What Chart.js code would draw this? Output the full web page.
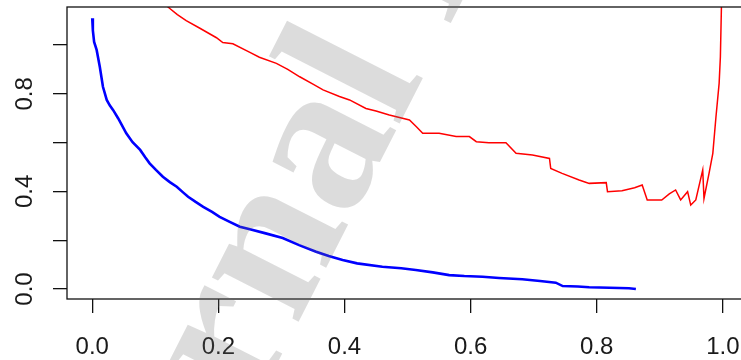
<!DOCTYPE html>
<html>
<head>
<meta charset="utf-8">
<script src="https://cdn.jsdelivr.net/npm/chart.js@4"></script>
<style>
  html, body { margin: 0; padding: 0; background: #fff; overflow: hidden; }
  #wrap { width: 760px; height: 360px; }
</style>
</head>
<body>
<div id="wrap"><canvas id="chart" width="760" height="360"></canvas></div>
<script>
// curve values
const blueX = [0, 0.001, 0.003, 0.007, 0.012, 0.017, 0.023, 0.028, 0.033, 0.041, 0.047, 0.054, 0.064, 0.076, 0.084, 0.091, 0.101, 0.112, 0.123, 0.134, 0.144, 0.152, 0.164, 0.176, 0.19, 0.202, 0.218, 0.234, 0.25, 0.275, 0.302, 0.328, 0.355, 0.375, 0.397, 0.42, 0.46, 0.49, 0.513, 0.54, 0.566, 0.59, 0.619, 0.645, 0.682, 0.71, 0.735, 0.746, 0.77, 0.788, 0.82, 0.851, 0.862];
const blueY = [1.11, 1.06, 1.013, 0.98, 0.911, 0.829, 0.775, 0.752, 0.734, 0.70, 0.672, 0.638, 0.602, 0.57, 0.54, 0.515, 0.488, 0.46, 0.438, 0.419, 0.396, 0.378, 0.357, 0.337, 0.316, 0.296, 0.275, 0.255, 0.245, 0.228, 0.209, 0.18, 0.153, 0.135, 0.119, 0.105, 0.091, 0.085, 0.078, 0.068, 0.057, 0.053, 0.05, 0.045, 0.04, 0.033, 0.026, 0.012, 0.01, 0.007, 0.005, 0.003, 0.0];

const redX = [0.10, 0.123, 0.135, 0.149, 0.17, 0.197, 0.207, 0.223, 0.25, 0.265, 0.292, 0.31, 0.329, 0.35, 0.366, 0.392, 0.408, 0.434, 0.45, 0.471, 0.503, 0.514, 0.524, 0.55, 0.577, 0.598, 0.609, 0.629, 0.656, 0.672, 0.698, 0.725, 0.727, 0.745, 0.772, 0.788, 0.815, 0.817, 0.84, 0.86, 0.872, 0.88, 0.903, 0.915, 0.925, 0.933, 0.944, 0.949, 0.957, 0.968, 0.97, 0.978, 0.984, 0.989, 0.994, 0.996, 0.998];
const redY = [1.20, 1.15, 1.125, 1.10, 1.07, 1.03, 1.01, 1.005, 0.97, 0.95, 0.925, 0.90, 0.87, 0.84, 0.816, 0.789, 0.775, 0.74, 0.73, 0.713, 0.693, 0.665, 0.638, 0.638, 0.625, 0.625, 0.604, 0.6, 0.6, 0.556, 0.549, 0.535, 0.494, 0.474, 0.447, 0.433, 0.436, 0.399, 0.403, 0.415, 0.426, 0.365, 0.365, 0.39, 0.406, 0.365, 0.399, 0.344, 0.365, 0.488, 0.371, 0.474, 0.556, 0.706, 0.843, 0.952, 1.2];

const xTicks = [0, 0.2, 0.4, 0.6, 0.8, 1.0];
const yTicks = [0, 0.2, 0.4, 0.6, 0.8, 1.0];
const yLabels = ['0.0', '', '0.4', '', '0.8', ''];

const watermark = 'Journal Pre-proof';

const FONT = "'Liberation Sans', Arial, sans-serif";

function toPoints(xs, ys) {
    return xs.map((x, i) => ({ x: x, y: ys[i] }));
}

// R style box around the plot region
const boxPlugin = {
    id: 'box',
    afterDatasetsDraw(chart) {
        const { ctx, chartArea } = chart;
        ctx.save();
        ctx.strokeStyle = '#111';
        ctx.lineWidth = 1.3;
        ctx.strokeRect(chartArea.left, chartArea.top, chartArea.right - chartArea.left, chartArea.bottom - chartArea.top);
        ctx.restore();
    }
};

// rotated y labels, placed with the y scale
const yLabelPlugin = {
    id: 'ylabels',
    afterDraw(chart) {
        const { ctx } = chart;
        const scale = chart.scales.y;
        ctx.save();
        ctx.fillStyle = '#1a1a1a';
        ctx.font = '24px ' + FONT;
        ctx.textAlign = 'center';
        ctx.textBaseline = 'alphabetic';
        yTicks.forEach((v, i) => {
            if (!yLabels[i]) return;
            const py = scale.getPixelForValue(v);
            ctx.save();
            ctx.translate(32, py);
            ctx.rotate(-Math.PI / 2);
            ctx.fillText(yLabels[i], 0, 0);
            ctx.restore();
        });
        ctx.restore();
    }
};

// grey diagonal watermark over everything, anchored on the foot of the "l"
const watermarkPlugin = {
    id: 'watermark',
    afterDraw(chart) {
        const { ctx } = chart;
        const ang = -63 * Math.PI / 180;
        ctx.save();
        ctx.font = "bold 212px 'Liberation Serif', 'Times New Roman', serif";
        const w1 = ctx.measureText('Journa').width;
        const wl = ctx.measureText('l').width;
        const d = w1 + wl / 2;
        const px = 411, py = 101;
        const ox = px - d * Math.cos(ang);
        const oy = py - d * Math.sin(ang);
        ctx.translate(ox, oy);
        ctx.rotate(ang);
        ctx.fillStyle = 'rgba(110,110,110,0.24)';
        ctx.textBaseline = 'alphabetic';
        ctx.fillText(watermark, 0, 0);
        ctx.restore();
    }
};

new Chart(document.getElementById('chart'), {
    type: 'scatter',
    data: {
        datasets: [{
            data: toPoints(redX, redY),
            showLine: true,
            borderColor: '#ff0000',
            borderWidth: 1.5,
            pointRadius: 0,
            tension: 0
        }, {
            data: toPoints(blueX, blueY),
            showLine: true,
            borderColor: '#0000ff',
            borderWidth: 2.6,
            pointRadius: 0,
            tension: 0
        }]
    },
    options: {
        responsive: false,
        animation: false,
        events: [],
        layout: { padding: { left: 0, top: 7, right: 11, bottom: 0 } },
        plugins: {
            legend: { display: false },
            tooltip: { enabled: false }
        },
        scales: {
            x: {
                type: 'linear',
                min: -0.04,
                max: 1.04,
                afterBuildTicks: axis => { axis.ticks = xTicks.map(v => ({ value: v })); },
                afterFit: axis => { axis.height = 61; },
                border: { display: false },
                grid: { drawOnChartArea: false, drawTicks: true, tickLength: 14, color: '#111', lineWidth: 1.3 },
                ticks: {
                    color: '#1a1a1a',
                    font: { family: FONT, size: 24 },
                    padding: 20,
                    maxRotation: 0,
                    autoSkip: false,
                    callback: v => v.toFixed(1)
                }
            },
            y: {
                type: 'linear',
                min: -0.041,
                max: 1.156,
                afterBuildTicks: axis => { axis.ticks = yTicks.map(v => ({ value: v })); },
                afterFit: axis => { axis.width = 67; },
                border: { display: false },
                grid: { drawOnChartArea: false, drawTicks: true, tickLength: 14, color: '#111', lineWidth: 1.3 },
                ticks: { display: false }
            }
        }
    },
    plugins: [boxPlugin, yLabelPlugin, watermarkPlugin]
});
</script>
</body>
</html>
